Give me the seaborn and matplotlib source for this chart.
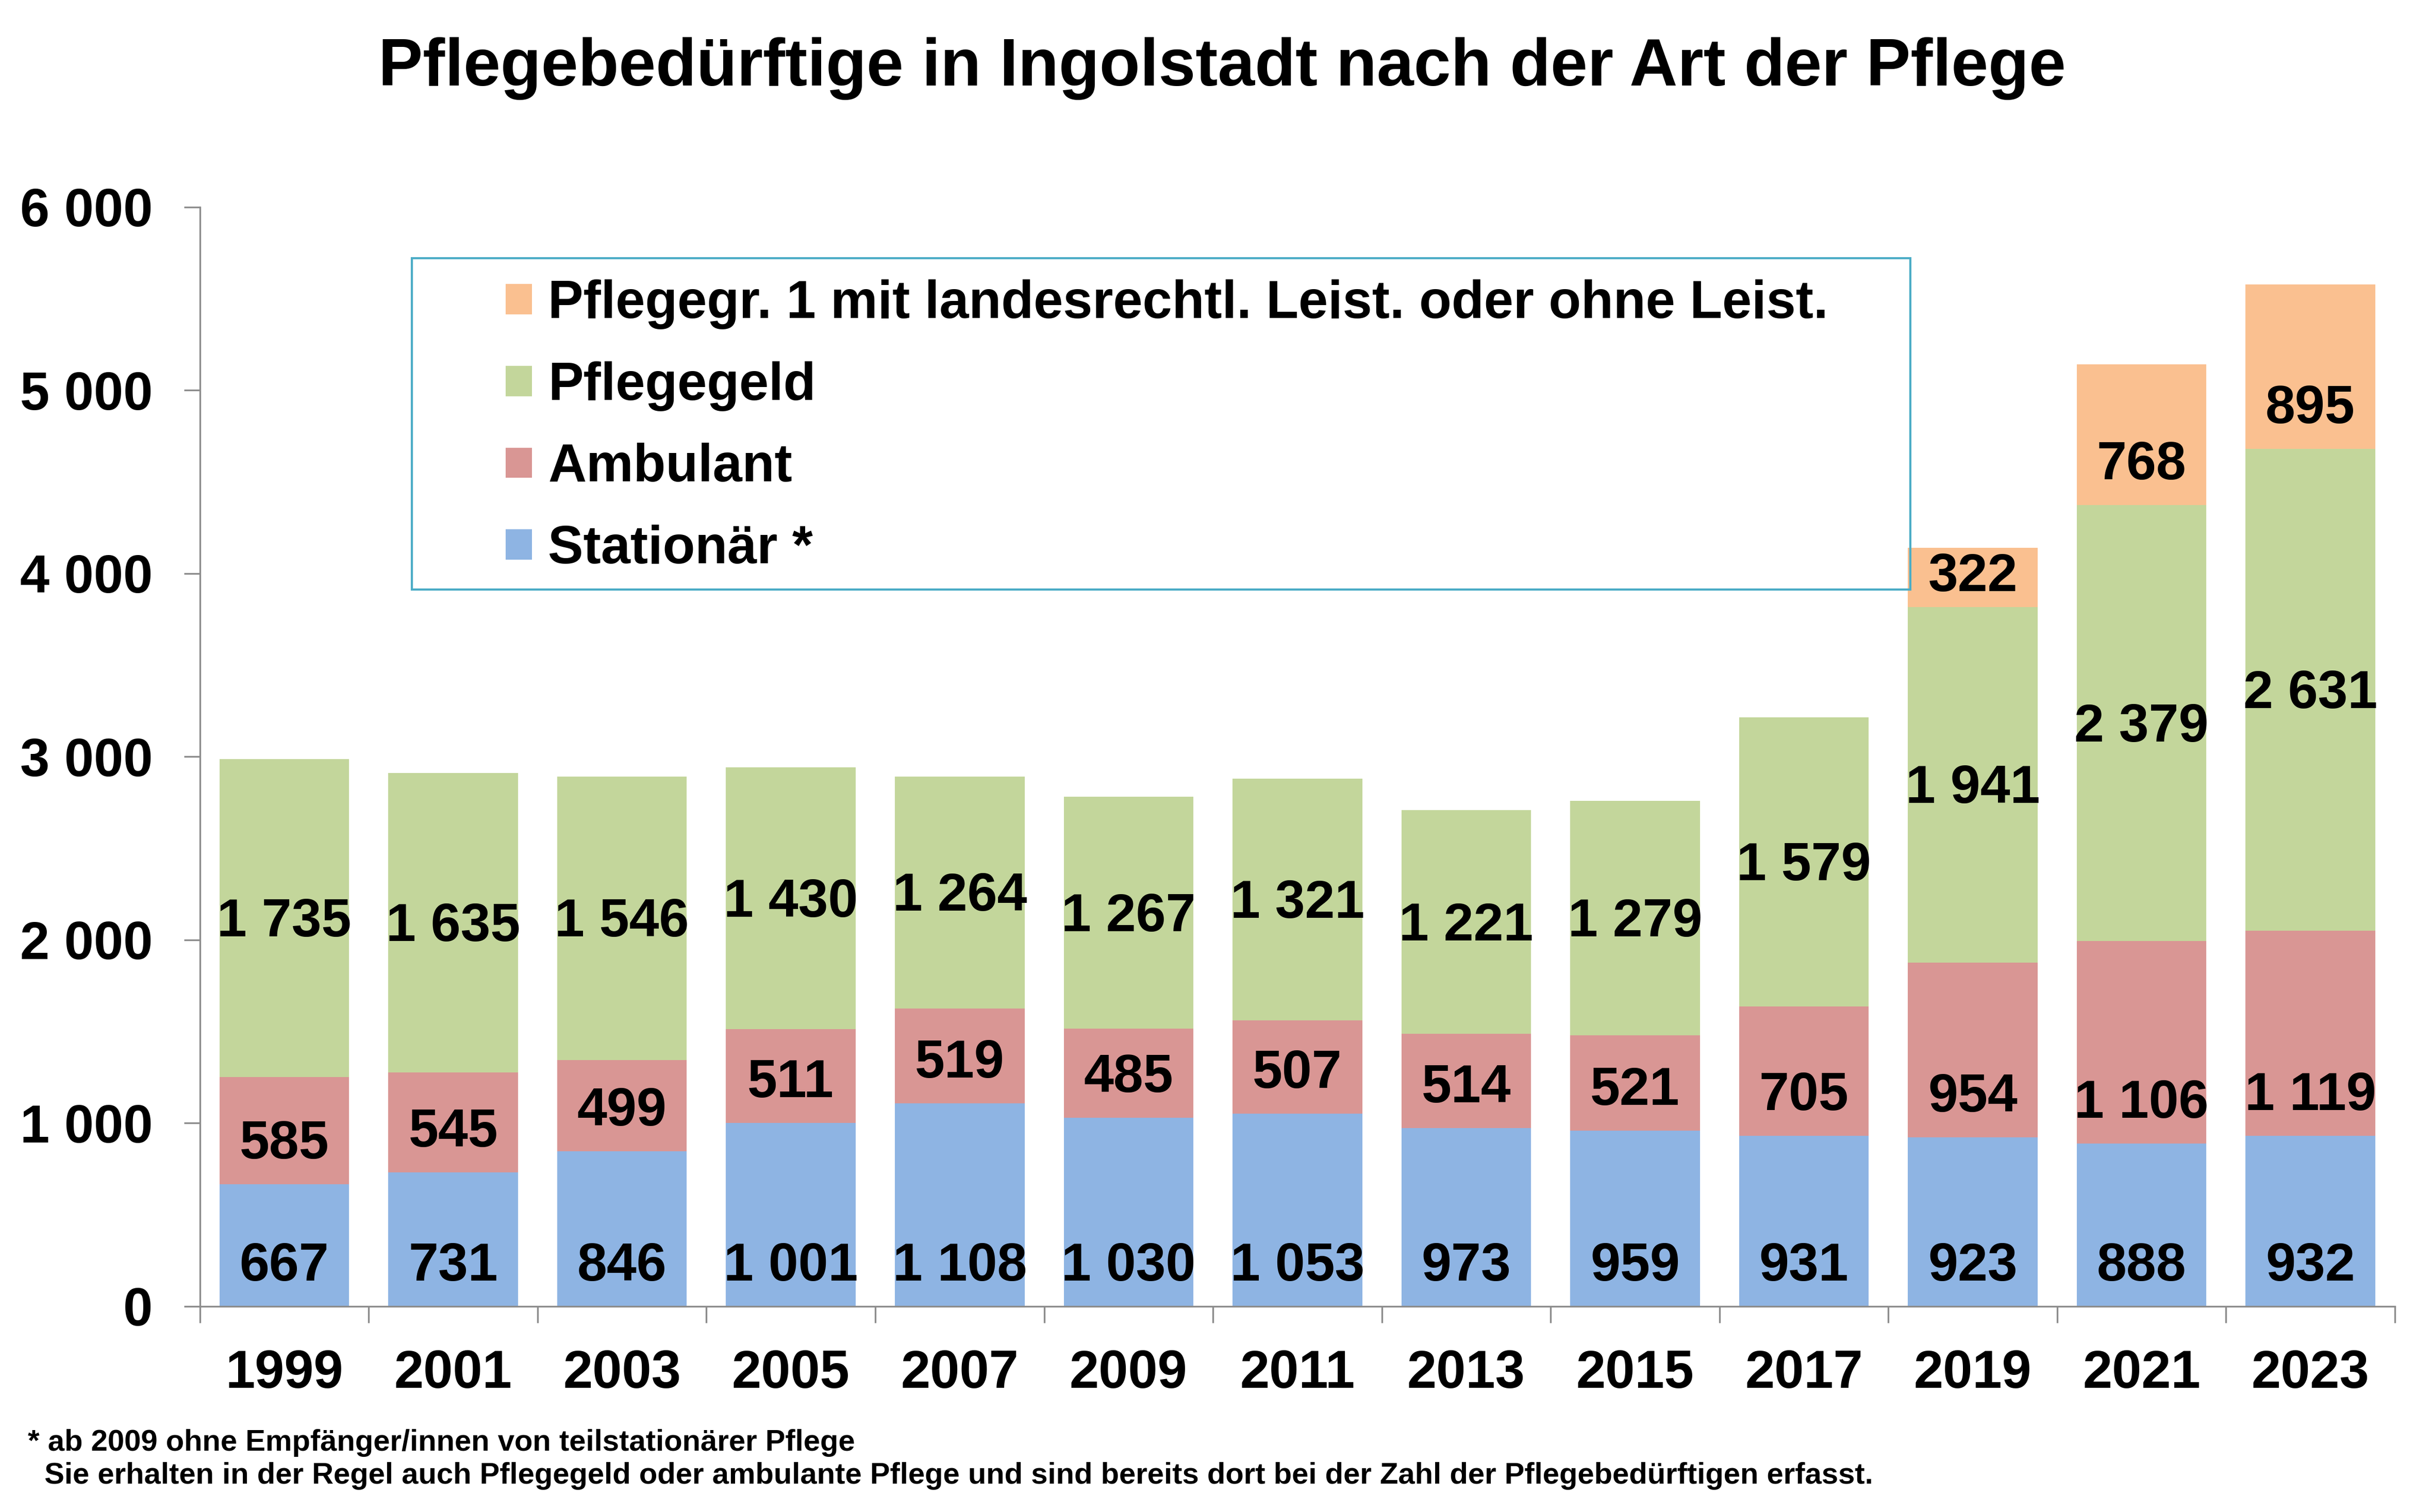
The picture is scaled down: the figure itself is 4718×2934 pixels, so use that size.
import matplotlib
matplotlib.use("Agg")
import matplotlib.pyplot as plt
from matplotlib.patches import Patch, Rectangle
from matplotlib.ticker import FixedLocator
import numpy as np
import seaborn as sns

# data
years = ["1999", "2001", "2003", "2005", "2007", "2009", "2011",
         "2013", "2015", "2017", "2019", "2021", "2023"]
stationaer = [667, 731, 846, 1001, 1108, 1030, 1053, 973, 959, 931, 923, 888, 932]
ambulant = [585, 545, 499, 511, 519, 485, 507, 514, 521, 705, 954, 1106, 1119]
pflegegeld = [1735, 1635, 1546, 1430, 1264, 1267, 1321, 1221, 1279, 1579, 1941, 2379, 2631]
pflegegrad1 = [0, 0, 0, 0, 0, 0, 0, 0, 0, 0, 322, 768, 895]

series_names = ["Stationär *", "Ambulant", "Pflegegeld",
                "Pflegegr. 1 mit landesrechtl. Leist. oder ohne Leist."]
colors = ["#8EB4E3", "#D99694", "#C3D69B", "#FAC090"]

sns.set_theme(style="white")
plt.rcParams["font.family"] = ["Liberation Sans", "DejaVu Sans"]
plt.rcParams["font.weight"] = "bold"
plt.rcParams["text.color"] = "black"
plt.rcParams["xtick.labelcolor"] = "black"
plt.rcParams["ytick.labelcolor"] = "black"

fig = plt.figure(figsize=(23.59, 14.67), dpi=200)
ax = fig.add_axes([0.0822, 0.1360, 0.9847 - 0.0822, 0.8630 - 0.1360])

layers = [stationaer, ambulant, pflegegeld, pflegegrad1]
cum = np.cumsum(np.array(layers), axis=0)

# draw stacked bars from the top layer down
for i in range(3, -1, -1):
    sns.barplot(x=years, y=cum[i], order=years, color=colors[i], saturation=1,
                width=0.768, linewidth=0, edgecolor="none", ax=ax)

# value labels (Pflegegeld centred, the others near the segment base)
bottoms = np.vstack([np.zeros(len(years)), cum[:-1]])
for i, vals in enumerate(layers):
    for j, v in enumerate(vals):
        if v == 0:
            continue
        if i == 2:
            ypos = bottoms[i][j] + v / 2 - 25
        else:
            ypos = bottoms[i][j] + min(215, v / 2)
        ax.text(j, ypos, f"{v:,}".replace(",", " "), ha="center", va="center",
                fontsize=37.5, fontweight="bold", color="black")

ax.set_xlim(-0.5, len(years) - 0.5)
ax.set_ylim(0, 6000)
ax.set_xlabel("")
ax.set_ylabel("")

grey = "#8C8C8C"
for s in ["top", "right"]:
    ax.spines[s].set_visible(False)
for s in ["left", "bottom"]:
    ax.spines[s].set_color(grey)
    ax.spines[s].set_linewidth(1.2)

yt = [0, 1000, 2000, 3000, 4000, 5000, 6000]
ax.set_yticks(yt)
ax.set_yticklabels([f"{v:,}".replace(",", " ") for v in yt], fontsize=37, fontweight="bold")
ax.tick_params(axis="y", direction="out", length=11, width=1.2, color=grey, pad=22, left=True)

ax.set_xticks(range(len(years)))
ax.set_xticklabels(years, fontsize=37, fontweight="bold")
ax.xaxis.set_minor_locator(FixedLocator(np.arange(-0.5, len(years), 1.0)))
ax.tick_params(axis="x", which="major", length=0, pad=30, bottom=True)
ax.tick_params(axis="x", which="minor", direction="out", length=11.5, width=1.2,
               color=grey, bottom=True)

# legend box and entries
ax.add_patch(Rectangle((0.0965, 0.6521), 0.7792 - 0.0965, 0.9536 - 0.6521,
                       transform=ax.transAxes, fill=False, edgecolor="#4BACC6",
                       linewidth=1.5, zorder=5))
handles = [Patch(facecolor=colors[i], edgecolor="none", label=series_names[i])
           for i in range(3, -1, -1)]
ax.legend(handles=handles, loc="center left", bbox_to_anchor=(0.1393, 0.8000),
          frameon=False, borderpad=0, borderaxespad=0, handlelength=0.5,
          handleheight=0.5, handletextpad=0.3, labelspacing=0.6,
          prop={"weight": "bold", "size": 37})

fig.text(0.5025, 0.9545, "Pflegebedürftige in Ingolstadt nach der Art der Pflege",
         ha="center", va="center", fontsize=46.5, fontweight="bold")

fig.text(54 / 4718, 1 - 2800 / 2934,
         "* ab 2009 ohne Empfänger/innen von teilstationärer Pflege",
         ha="left", va="center", fontsize=20.9, fontweight="bold")
fig.text(54 / 4718, 1 - 2864 / 2934,
         "  Sie erhalten in der Regel auch Pflegegeld oder ambulante Pflege und sind bereits dort bei der Zahl der Pflegebedürftigen erfasst.",
         ha="left", va="center", fontsize=20.9, fontweight="bold")

fig.savefig("out.png", dpi=200, facecolor="white")
